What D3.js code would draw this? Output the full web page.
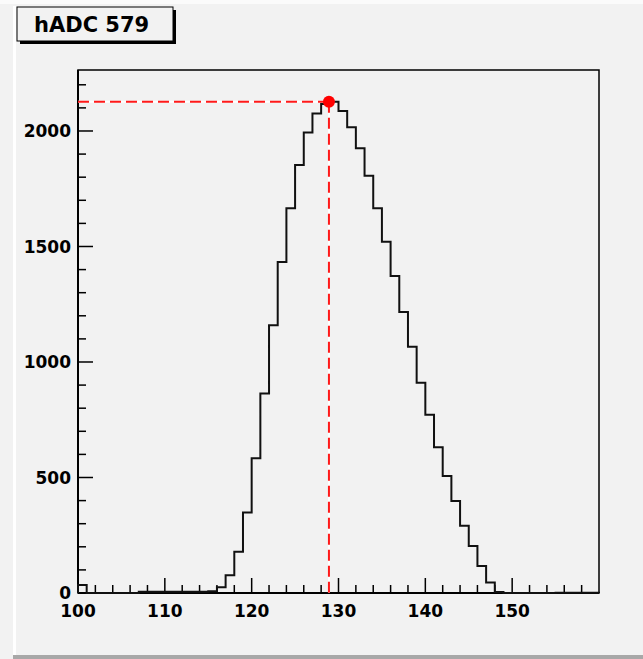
<!DOCTYPE html>
<html lang="en">
<head>
  <meta charset="UTF-8">
  <title>hADC 579</title>
  <script src="https://d3js.org/d3.v7.min.js"></script>
  <style>
    html, body { margin: 0; padding: 0; background: #f2f2f2; }
    svg { display: block; }
    .lbl { font-family: "DejaVu Sans", sans-serif; font-weight: bold; }
  </style>
</head>
<body>
<div id="chart"></div>
<script>
// histogram: 60 bins of width 1, starting at 100
const binStart = 100;
const counts = [
  35, 0, 0, 0, 0, 0, 0,
  5, 5, 5, 5, 5, 5, 5, 5,
  8, 25, 77, 179, 348, 583, 864, 1159, 1433, 1665, 1853, 1993, 2076, 2117, 2127,
  2087, 2016, 1925, 1806, 1665, 1521, 1372, 1216, 1066, 910, 772, 631, 506, 398,
  291, 203, 117, 45, 4,
  0, 0, 0, 0, 0, 0,
  1, 1, 1, 1, 1
];
const peak = { x: 128.9, y: 2127 };
const xTicks = [100, 110, 120, 130, 140, 150];
const yTicks = [0, 500, 1000, 1500, 2000];
const title = "hADC 579";

const W = 643, H = 659;
const frame = { left: 78, right: 599, top: 70, bottom: 593 };

const svg = d3.select("#chart").append("svg")
  .attr("width", W).attr("height", H);

// canvas decorations
svg.append("rect").attr("width", W).attr("height", H).attr("fill", "#f2f2f2");
svg.append("rect").attr("x", 0).attr("y", 0).attr("width", W).attr("height", 4).attr("fill", "#fbfbfb");
svg.append("rect").attr("x", 13).attr("y", 6).attr("width", 3).attr("height", H - 6).attr("fill", "#ffffff");
svg.append("rect").attr("x", 13).attr("y", 655).attr("width", W - 13).attr("height", 4).attr("fill", "#a8a8a8");

const x = d3.scaleLinear().domain([100, 160]).range([frame.left, frame.right]);
const y = d3.scaleLinear().domain([0, 2264]).range([frame.bottom, frame.top]);

// frame
svg.append("rect")
  .attr("x", frame.left).attr("y", frame.top)
  .attr("width", frame.right - frame.left).attr("height", frame.bottom - frame.top)
  .attr("fill", "none").attr("stroke", "#000").attr("stroke-width", 1.5);

// y axis ticks (inside), minor every 100
const yMinor = d3.range(0, 2264, 100);
svg.append("g").selectAll("line").data(yMinor).join("line")
  .attr("x1", frame.left).attr("x2", d => frame.left + (d % 500 === 0 ? 15 : 8))
  .attr("y1", d => y(d)).attr("y2", d => y(d))
  .attr("stroke", "#000").attr("stroke-width", 1.5);
svg.append("line")
  .attr("x1", frame.left).attr("x2", frame.left)
  .attr("y1", frame.top).attr("y2", frame.bottom)
  .attr("stroke", "#000").attr("stroke-width", 2);
svg.append("g").selectAll("text").data(yTicks).join("text")
  .attr("class", "lbl")
  .attr("x", 71).attr("y", d => y(d))
  .attr("dy", "0.36em")
  .attr("text-anchor", "end")
  .attr("font-size", 17)
  .text(d => d);

// x axis ticks (inside), minor every 2
const xMinor = d3.range(100, 160, 2);
svg.append("g").selectAll("line").data(xMinor).join("line")
  .attr("x1", d => x(d)).attr("x2", d => x(d))
  .attr("y1", frame.bottom).attr("y2", d => frame.bottom - (d % 10 === 0 ? 15 : 8))
  .attr("stroke", "#000").attr("stroke-width", 1.5);
svg.append("line")
  .attr("x1", frame.left).attr("x2", frame.right)
  .attr("y1", frame.bottom).attr("y2", frame.bottom)
  .attr("stroke", "#000").attr("stroke-width", 2);
svg.append("g").selectAll("text").data(xTicks).join("text")
  .attr("class", "lbl")
  .attr("x", d => x(d)).attr("y", 617)
  .attr("text-anchor", "middle")
  .attr("font-size", 17)
  .text(d => d);

// histogram outline
const pts = counts.map((c, i) => [binStart + i, c]);
pts.unshift([binStart, 0]);
pts.push([binStart + counts.length, counts[counts.length - 1]]);
pts.push([binStart + counts.length, 0]);
const line = d3.line()
  .x(d => x(d[0])).y(d => y(d[1]))
  .curve(d3.curveStepAfter);
svg.append("path")
  .attr("d", line(pts))
  .attr("fill", "none").attr("stroke", "#111").attr("stroke-width", 2);

// peak guide lines: white under, red dashes over
const guide = [
  [[100, peak.y], [peak.x, peak.y]],
  [[peak.x, peak.y], [peak.x, 0]]
];
guide.forEach(seg => {
  svg.append("line")
    .attr("x1", x(seg[0][0])).attr("y1", y(seg[0][1]))
    .attr("x2", x(seg[1][0])).attr("y2", y(seg[1][1]))
    .attr("stroke", "#fff").attr("stroke-width", 2);
  svg.append("line")
    .attr("x1", x(seg[0][0])).attr("y1", y(seg[0][1]))
    .attr("x2", x(seg[1][0])).attr("y2", y(seg[1][1]))
    .attr("stroke", "#ff1a1a").attr("stroke-width", 2)
    .attr("stroke-dasharray", "11,5");
});
svg.append("circle")
  .attr("cx", x(peak.x)).attr("cy", y(peak.y)).attr("r", 6)
  .attr("fill", "#ff0000");

// title box with shadow
svg.append("rect").attr("x", 20).attr("y", 10).attr("width", 156).attr("height", 34).attr("fill", "#000");
svg.append("rect").attr("x", 17).attr("y", 7).attr("width", 156).attr("height", 34)
  .attr("fill", "#f2f2f2").attr("stroke", "#000").attr("stroke-width", 1);
svg.append("text").attr("class", "lbl")
  .attr("x", 34).attr("y", 32)
  .attr("font-size", 21)
  .text(title);
</script>
</body>
</html>
